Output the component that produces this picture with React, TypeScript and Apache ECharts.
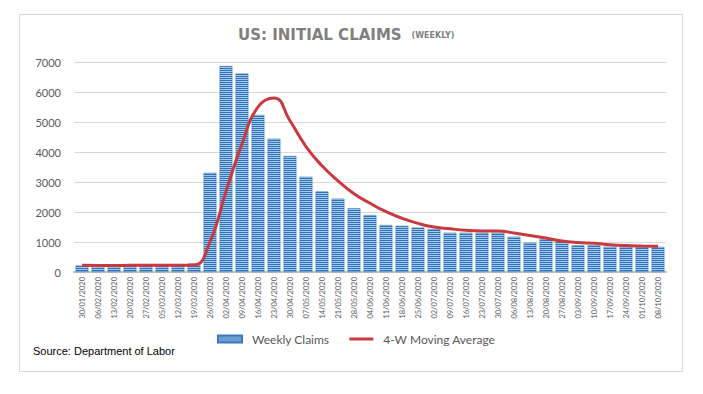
import React, { useEffect, useRef } from "react";
import * as echarts from "echarts";

const categories = [
  "30/01/2020", "06/02/2020", "13/02/2020", "20/02/2020", "27/02/2020", "05/03/2020",
  "12/03/2020", "19/03/2020", "26/03/2020", "02/04/2020", "09/04/2020", "16/04/2020",
  "23/04/2020", "30/04/2020", "07/05/2020", "14/05/2020", "21/05/2020", "28/05/2020",
  "04/06/2020", "11/06/2020", "18/06/2020", "25/06/2020", "02/07/2020", "09/07/2020",
  "16/07/2020", "23/07/2020", "30/07/2020", "06/08/2020", "13/08/2020", "20/08/2020",
  "27/08/2020", "03/09/2020", "10/09/2020", "17/09/2020", "24/09/2020", "01/10/2020",
  "08/10/2020",
];

const weeklyClaims = [
  216, 205, 211, 219, 219, 211, 211, 282, 3307, 6867, 6615, 5237, 4442, 3867, 3176,
  2687, 2446, 2123, 1897, 1566, 1540, 1482, 1433, 1311, 1311, 1311, 1311, 1178, 978,
  1111, 1011, 889, 889, 844, 844, 844, 840,
];

const movingAverage = [
  222, 220, 220, 222, 223, 224, 224, 232, 1000, 2680, 4270, 5500, 5800, 5040, 4180,
  3540, 3040, 2610, 2290, 2010, 1790, 1620, 1500, 1440, 1390, 1370, 1370, 1300, 1220,
  1130, 1030, 980, 960, 910, 880, 865, 855,
];

const yTicks = { min: 0, max: 7000, interval: 1000 };

function makeStripePattern(): HTMLCanvasElement {
  const c = document.createElement("canvas");
  c.width = 4;
  c.height = 2;
  const ctx = c.getContext("2d")!;
  ctx.fillStyle = "#2c72b8";
  ctx.fillRect(0, 0, 4, 1);
  ctx.fillStyle = "#a6c9ec";
  ctx.fillRect(0, 1, 4, 1);
  return c;
}

export default function App() {
  const ref = useRef<HTMLDivElement>(null);

  useEffect(() => {
    if (!ref.current) return;
    const chart = echarts.init(ref.current, null, { renderer: "svg" });
    const stripe = makeStripePattern();
    const grey = "#595959";
    const red = "#c9393f";

    chart.setOption({
      animation: false,
      backgroundColor: "#ffffff",
      title: {
        left: 238,
        top: 26,
        padding: 0,
        text: "{a|US: INITIAL CLAIMS}  {b|(WEEKLY)}",
        textStyle: {
          rich: {
            a: {
              fontFamily: "DejaVu Sans",
              fontWeight: "bold",
              fontSize: 15,
              color: "#7f7f7f",
            },
            b: {
              fontFamily: "DejaVu Sans",
              fontWeight: "bold",
              fontSize: 8,
              color: "#7f7f7f",
            },
          },
        },
      },
      legend: {
        left: 217,
        top: 333,
        padding: 0,
        itemWidth: 24,
        itemHeight: 7,
        itemGap: 20,
        textStyle: {
          fontFamily: "Lato",
          fontSize: 12,
          color: grey,
          padding: [0, 0, 0, 5],
        },
        data: [
          { name: "Weekly Claims", icon: "rect" },
          {
            name: "4-W Moving Average",
            icon: "path://M0,0 L0,0 M0,2 L24,2 L24,5 L0,5 Z M24,7 L24,7",
            itemStyle: { color: red },
          },
        ],
      },
      grid: {
        left: 74,
        right: 37,
        top: 62,
        bottom: 122,
      },
      xAxis: {
        type: "category",
        data: categories,
        axisLine: { lineStyle: { color: "#bfbfbf", width: 2 } },
        axisTick: { show: false },
        axisLabel: {
          interval: 0,
          rotate: 90,
          fontFamily: "Lato",
          fontSize: 7.5,
          color: grey,
          margin: 5,
        },
      },
      yAxis: {
        type: "value",
        min: yTicks.min,
        max: yTicks.max,
        interval: yTicks.interval,
        axisLine: { show: false },
        axisTick: { show: false },
        splitLine: { lineStyle: { color: "#d9d9d9", width: 1 } },
        axisLabel: {
          fontFamily: "Lato",
          fontSize: 11,
          color: grey,
          margin: 13,
          formatter: (v: number) => String(v),
        },
      },
      series: [
        {
          name: "Weekly Claims",
          type: "bar",
          data: weeklyClaims,
          barCategoryGap: "20%",
          itemStyle: {
            color: { image: stripe, repeat: "repeat" },
            borderColor: "#3a78b8",
            borderWidth: 0.6,
          },
        },
        {
          name: "4-W Moving Average",
          type: "line",
          data: movingAverage,
          smooth: true,
          symbol: "none",
          showSymbol: false,
          lineStyle: { color: red, width: 3 },
          itemStyle: { color: red },
          z: 5,
        },
      ],
      graphic: [
        {
          type: "rect",
          silent: true,
          z: -1,
          shape: { x: 19.5, y: 14.5, width: 663, height: 357 },
          style: { fill: "none", stroke: "#d9d9d9", lineWidth: 1 },
        },
        {
          type: "text",
          left: 33,
          top: 345,
          style: {
            text: "Source: Department of Labor",
            fontFamily: "Liberation Sans",
            fontSize: 11,
            fill: "#000000",
          },
        },
      ],
    });

    return () => chart.dispose();
  }, []);

  return (
    <div
      ref={ref}
      style={{ position: "fixed", left: 0, top: 0, width: 703, height: 394 }}
    />
  );
}
